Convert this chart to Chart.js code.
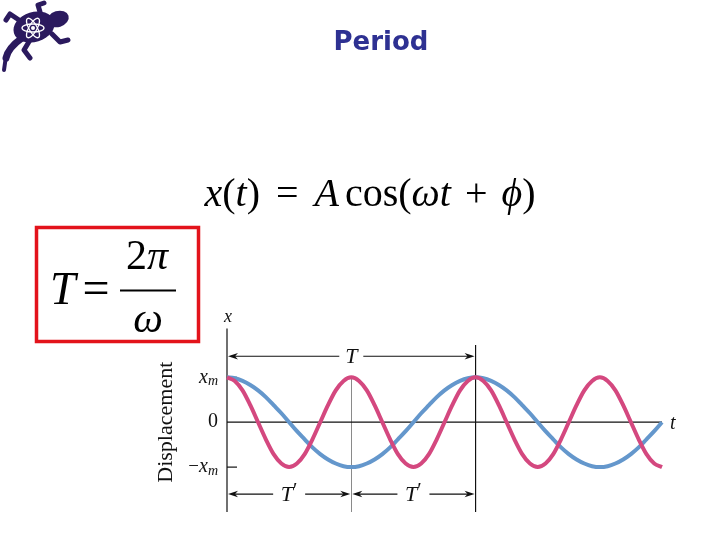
<!DOCTYPE html>
<html><head><meta charset="utf-8">
<script src="https://cdn.jsdelivr.net/npm/chart.js@4"></script>
<style>
html,body{margin:0;padding:0;background:#fff;}
#wrap{position:relative;width:720px;height:540px;overflow:hidden;background:#fff;}
canvas{position:absolute;left:0;top:0;}
</style></head><body>
<div id="wrap"><canvas id="c" width="720" height="540"></canvas></div>
<script>
// time in units of the long period T
const timeT = [0,0.03125,0.0625,0.09375,0.125,0.15625,0.1875,0.21875,0.25,0.28125,0.3125,0.34375,0.375,0.40625,0.4375,0.46875,
  0.5,0.53125,0.5625,0.59375,0.625,0.65625,0.6875,0.71875,0.75,0.78125,0.8125,0.84375,0.875,0.90625,0.9375,0.96875,
  1,1.03125,1.0625,1.09375,1.125,1.15625,1.1875,1.21875,1.25,1.28125,1.3125,1.34375,1.375,1.40625,1.4375,1.46875,
  1.5,1.53125,1.5625,1.59375,1.625,1.65625,1.6875,1.71875,1.75];
// displacement in units of x_m
const bluePeriodT = [1,0.98,0.92,0.83,0.71,0.56,0.38,0.2,0,-0.2,-0.38,-0.56,-0.71,-0.83,-0.92,-0.98,
  -1,-0.98,-0.92,-0.83,-0.71,-0.56,-0.38,-0.2,0,0.2,0.38,0.56,0.71,0.83,0.92,0.98,
  1,0.98,0.92,0.83,0.71,0.56,0.38,0.2,0,-0.2,-0.38,-0.56,-0.71,-0.83,-0.92,-0.98,
  -1,-0.98,-0.92,-0.83,-0.71,-0.56,-0.38,-0.2,0];
const pinkPeriodTprime = [1,0.92,0.71,0.38,0,-0.38,-0.71,-0.92,-1,-0.92,-0.71,-0.38,0,0.38,0.71,0.92,
  1,0.92,0.71,0.38,0,-0.38,-0.71,-0.92,-1,-0.92,-0.71,-0.38,0,0.38,0.71,0.92,
  1,0.92,0.71,0.38,0,-0.38,-0.71,-0.92,-1,-0.92,-0.71,-0.38,0,0.38,0.71,0.92,
  1,0.92,0.71,0.38,0,-0.38,-0.71,-0.92,-1];
// tick values on the displacement axis and their labels
const yTickValues = [1,0,-1];
const yTickLabels = ['x_m','0','-x_m'];
// period markers (in units of T)
const periodMarks = [0,1];
const primeMarks = [0,0.5,1];

const serif = '"Liberation Serif","Times New Roman",serif';

function runs(ctx, parts, x, y, measureOnly){
  let w = 0;
  for (const [txt, font, dy] of parts){
    if (typeof txt === 'number'){ w += txt; continue; }
    ctx.font = font;
    if(!measureOnly) ctx.fillText(txt, x + w, y + (dy||0));
    w += ctx.measureText(txt).width;
  }
  return w;
}

function arrowHead(ctx, x, y, dir){
  ctx.beginPath();
  ctx.moveTo(x, y);
  ctx.lineTo(x - dir*10, y - 3.2);
  ctx.lineTo(x - dir*7, y);
  ctx.lineTo(x - dir*10, y + 3.2);
  ctx.closePath();
  ctx.fill();
}

function dimArrow(ctx, x1, x2, y, label, gap){
  const cx = (x1 + x2)/2;
  ctx.strokeStyle = '#111'; ctx.fillStyle = '#111'; ctx.lineWidth = 1.2;
  ctx.beginPath();
  ctx.moveTo(x1 + 4, y); ctx.lineTo(cx - gap, y);
  ctx.moveTo(cx + gap, y); ctx.lineTo(x2 - 4, y);
  ctx.stroke();
  arrowHead(ctx, x1 + 1, y, -1);
  arrowHead(ctx, x2 - 1, y, 1);
  ctx.textBaseline = 'middle'; ctx.textAlign = 'left';
  const parts = [[label[0], 'italic 22px ' + serif]];
  if (label.length > 1) parts.push(['\u2032', '20px ' + serif, -3]);
  const w = runs(ctx, parts, 0, 0, true);
  runs(ctx, parts, cx - w/2, y + 1);
}

function drawLogo(ctx){
  ctx.save();
  ctx.fillStyle = '#2b1a5e'; ctx.strokeStyle = '#2b1a5e';
  ctx.lineCap = 'round'; ctx.lineJoin = 'round';
  ctx.lineWidth = 7;
  ctx.beginPath(); ctx.moveTo(22,38); ctx.quadraticCurveTo(8,48,6,58); ctx.stroke();
  ctx.lineWidth = 4;
  ctx.beginPath(); ctx.moveTo(6,56); ctx.lineTo(4,70); ctx.stroke();
  ctx.lineWidth = 5;
  ctx.beginPath();
  ctx.moveTo(22,22); ctx.lineTo(10,14); ctx.lineTo(6,20);
  ctx.moveTo(30,40); ctx.lineTo(24,50); ctx.lineTo(30,58);
  ctx.moveTo(52,34); ctx.lineTo(60,42); ctx.lineTo(68,40);
  ctx.moveTo(40,12); ctx.lineTo(38,5); ctx.lineTo(44,3);
  ctx.stroke();
  ctx.beginPath(); ctx.ellipse(34,27,21,15,-0.3,0,Math.PI*2); ctx.fill();
  ctx.beginPath(); ctx.ellipse(58,19,11,8,-0.3,0,Math.PI*2); ctx.fill();
  ctx.strokeStyle = '#fff'; ctx.lineWidth = 1.3;
  for (const a of [0, Math.PI/3, 2*Math.PI/3]){
    ctx.beginPath(); ctx.ellipse(33,28,11,4,a,0,Math.PI*2); ctx.stroke();
  }
  ctx.fillStyle = '#fff'; ctx.beginPath(); ctx.arc(33,28,2,0,Math.PI*2); ctx.fill();
  ctx.restore();
}

const annot = {
  id: 'annot',
  beforeDatasetsDraw(chart){
    const ctx = chart.ctx, xs = chart.scales.x, ys = chart.scales.y;
    const x0 = xs.getPixelForValue(0), yb = ys.getPixelForValue(-2.0);
    ctx.save();
    ctx.strokeStyle = '#8a8a8a'; ctx.lineWidth = 1;
    const xm = Math.round(xs.getPixelForValue(primeMarks[1])) + 0.5;
    ctx.beginPath(); ctx.moveTo(xm, ys.getPixelForValue(1)); ctx.lineTo(xm, yb); ctx.stroke();
    ctx.strokeStyle = '#111'; ctx.lineWidth = 1.2;
    ctx.beginPath(); ctx.moveTo(x0, ys.getPixelForValue(2.09)); ctx.lineTo(x0, yb); ctx.stroke();
    const xT = xs.getPixelForValue(periodMarks[1]);
    ctx.beginPath(); ctx.moveTo(xT, ys.getPixelForValue(1.72)); ctx.lineTo(xT, yb); ctx.stroke();
    ctx.beginPath(); ctx.moveTo(x0, ys.getPixelForValue(0)); ctx.lineTo(xs.getPixelForValue(1.75), ys.getPixelForValue(0)); ctx.stroke();
    for (const v of [1,-1]){
      const y = ys.getPixelForValue(v);
      ctx.beginPath(); ctx.moveTo(x0, y); ctx.lineTo(x0 + 10, y); ctx.stroke();
    }
    ctx.restore();
  },
  afterDraw(chart){
    const ctx = chart.ctx, xs = chart.scales.x, ys = chart.scales.y;
    const x0 = xs.getPixelForValue(0);
    ctx.save();
    ctx.fillStyle = '#111';
    ctx.textBaseline = 'middle'; ctx.textAlign = 'left';
    yTickValues.forEach((v, i) => {
      const lab = yTickLabels[i];
      const y = ys.getPixelForValue(v);
      let parts;
      if (lab === '0') parts = [['0', '20px ' + serif]];
      else {
        parts = [];
        if (lab[0] === '-') parts.push(['\u2212', '19px ' + serif]);
        parts.push(['x', 'italic 20px ' + serif]);
        parts.push(['m', 'italic 14px ' + serif, 4]);
      }
      const w = runs(ctx, parts, 0, 0, true);
      runs(ctx, parts, x0 - 9 - w, y);
    });
    ctx.textAlign = 'center';
    ctx.font = 'italic 18px ' + serif;
    ctx.fillText('x', x0 + 1, ys.getPixelForValue(2.33));
    ctx.textAlign = 'left';
    ctx.font = 'italic 20px ' + serif;
    ctx.fillText('t', xs.getPixelForValue(1.75) + 8, ys.getPixelForValue(0) + 2);
    ctx.save();
    ctx.translate(166, ys.getPixelForValue(0));
    ctx.rotate(-Math.PI/2);
    ctx.textAlign = 'center';
    ctx.font = '22px ' + serif;
    ctx.fillText('Displacement', 0, 0);
    ctx.restore();
    dimArrow(ctx, xs.getPixelForValue(periodMarks[0]), xs.getPixelForValue(periodMarks[1]), ys.getPixelForValue(1.47), 'T', 12);
    for (let i = 0; i < primeMarks.length - 1; i++){
      dimArrow(ctx, xs.getPixelForValue(primeMarks[i]), xs.getPixelForValue(primeMarks[i+1]), ys.getPixelForValue(-1.6), "T'", 16);
    }
    ctx.textAlign = 'center'; ctx.textBaseline = 'middle';
    ctx.fillStyle = '#2e3192';
    ctx.font = 'bold 26px "DejaVu Sans", sans-serif';
    ctx.fillText('Period', 381, 43);
    ctx.fillStyle = '#000'; ctx.textAlign = 'left'; ctx.textBaseline = 'alphabetic';
    const fs = 40, it = 'italic ' + fs + 'px ' + serif, up = fs + 'px ' + serif;
    const f1 = [['x', it], ['(', up], ['t', it], [')', up], [16], ['=', up], [16], ['A', it], [6], ['cos(', up], ['\u03c9t', it], [14], ['+', up], [14], ['\u03d5', it], [')', up]];
    const w1 = runs(ctx, f1, 0, 0, true);
    runs(ctx, f1, 370 - w1/2, 206);
    ctx.strokeStyle = '#e3131b'; ctx.lineWidth = 3.5;
    ctx.strokeRect(36.5, 227.5, 162, 114);
    ctx.fillStyle = '#000';
    runs(ctx, [['T', 'italic 46px ' + serif], [7], ['=', '48px ' + serif]], 50, 304);
    const num = [['2', '42px ' + serif], ['\u03c0', 'italic 42px ' + serif]];
    const wn = runs(ctx, num, 0, 0, true);
    runs(ctx, num, 147 - wn/2, 269);
    ctx.fillRect(120, 289.5, 56, 2);
    ctx.font = 'italic 42px ' + serif;
    const wo = ctx.measureText('\u03c9').width;
    ctx.fillText('\u03c9', 148 - wo/2, 332);
    drawLogo(ctx);
    ctx.restore();
  }
};

const pts = arr => timeT.map((t, i) => ({x: t, y: arr[i]}));

new Chart(document.getElementById('c'), {
  type: 'line',
  data: {
    datasets: [
      { label: 'T\u2032', data: pts(pinkPeriodTprime), borderColor: '#d4487f', borderWidth: 4, pointRadius: 0, cubicInterpolationMode: 'monotone', clip: false, order: 0 },
      { label: 'T', data: pts(bluePeriodT), borderColor: '#6497cc', borderWidth: 4, pointRadius: 0, cubicInterpolationMode: 'monotone', clip: false, order: 1 }
    ]
  },
  options: {
    responsive: false, animation: false, devicePixelRatio: 1,
    layout: { padding: { left: 227, right: 58, top: 310, bottom: 28 } },
    plugins: { legend: { display: false }, tooltip: { enabled: false } },
    scales: {
      x: { type: 'linear', min: 0, max: 1.75, display: false },
      y: { type: 'linear', min: -2, max: 2.5, display: false }
    }
  },
  plugins: [annot]
});
</script>
</body></html>
